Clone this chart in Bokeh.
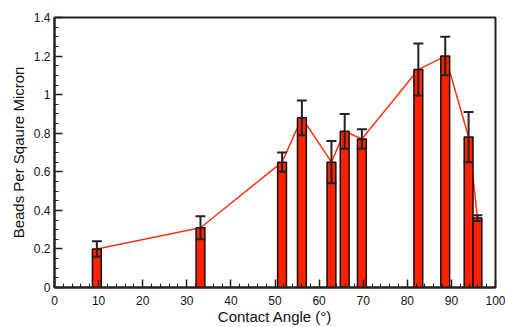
from bokeh.plotting import figure
from bokeh.models import ColumnDataSource, Whisker, TeeHead, FixedTicker, Range1d
from bokeh.embed import file_html
from bokeh.resources import INLINE

angles = [9.6, 33.1, 51.6, 56.1, 62.8, 65.8, 69.7, 82.5, 88.6, 93.9, 95.9]
density = [0.20, 0.31, 0.65, 0.88, 0.65, 0.81, 0.77, 1.13, 1.20, 0.78, 0.36]
errors = [0.04, 0.06, 0.05, 0.09, 0.11, 0.09, 0.05, 0.135, 0.10, 0.13, 0.015]

x_ticks = [0, 10, 20, 30, 40, 50, 60, 70, 80, 90, 100]
x_labels = ["0", "10", "20", "30", "40", "50", "60", "70", "80", "90", "100"]
y_ticks = [0, 0.2, 0.4, 0.6, 0.8, 1.0, 1.2, 1.4]
y_labels = ["0", "0.2", "0.4", "0.6", "0.8", "1", "1.2", "1.4"]

src = ColumnDataSource(dict(
    x=angles, y=density,
    upper=[d + e for d, e in zip(density, errors)],
    lower=[d - e for d, e in zip(density, errors)],
))

p = figure(width=505, height=327, output_backend="svg", toolbar_location=None,
           x_range=Range1d(0, 100), y_range=Range1d(0, 1.4),
           min_border_left=54, min_border_right=10, min_border_top=17, min_border_bottom=37)
p.grid.visible = False
p.outline_line_color = "#222222"
p.outline_line_width = 2
p.background_fill_color = "white"
p.border_fill_color = "white"

p.line("x", "y", source=src, line_color="#ff3311", line_width=1.5)
p.vbar(x="x", top="y", bottom=0, width=2.0, source=src,
       fill_color="#ff2200", line_color="#1a0a0a", line_width=1.5)
w = Whisker(base="x", upper="upper", lower="lower", source=src,
            line_color="#222222", line_width=2, level="overlay",
            upper_head=TeeHead(size=10, line_color="#222222", line_width=2),
            lower_head=TeeHead(size=10, line_color="#222222", line_width=2))
p.add_layout(w)

font = "Liberation Sans"
xminor = [v for v in range(0, 101, 2) if v % 10 != 0]
yminor = [round(i * 0.05, 2) for i in range(0, 29) if i % 4 != 0]
p.xaxis.ticker = FixedTicker(ticks=x_ticks, minor_ticks=xminor)
p.yaxis.ticker = FixedTicker(ticks=y_ticks, minor_ticks=yminor)
p.xaxis.major_label_overrides = {t: l for t, l in zip(x_ticks, x_labels)}
p.yaxis.major_label_overrides = {t: l for t, l in zip(y_ticks, y_labels)}

for ax in (p.xaxis[0], p.yaxis[0]):
    ax.axis_line_width = 2
    ax.axis_line_color = "#222222"
    ax.major_tick_in = 8
    ax.major_tick_out = 0
    ax.minor_tick_in = 4
    ax.minor_tick_out = 0
    ax.major_tick_line_width = 1.5
    ax.major_tick_line_color = "#222222"
    ax.minor_tick_line_color = "#222222"
    ax.minor_tick_line_width = 1
    ax.major_label_text_font = font
    ax.major_label_text_font_size = "12px"
    ax.major_label_text_color = "#111111"
    ax.axis_label_text_font = font
    ax.axis_label_text_font_size = "15px"
    ax.axis_label_text_font_style = "normal"
    ax.axis_label_text_color = "#111111"

p.xaxis.axis_label = "Contact Angle (°)"
p.yaxis.axis_label = "Beads Per Sqaure Micron"
p.xaxis.major_label_standoff = 8
p.xaxis.axis_label_standoff = 0
p.yaxis.major_label_standoff = 4
p.yaxis.axis_label_standoff = 4

open("out.html", "w").write(file_html(p, INLINE))
